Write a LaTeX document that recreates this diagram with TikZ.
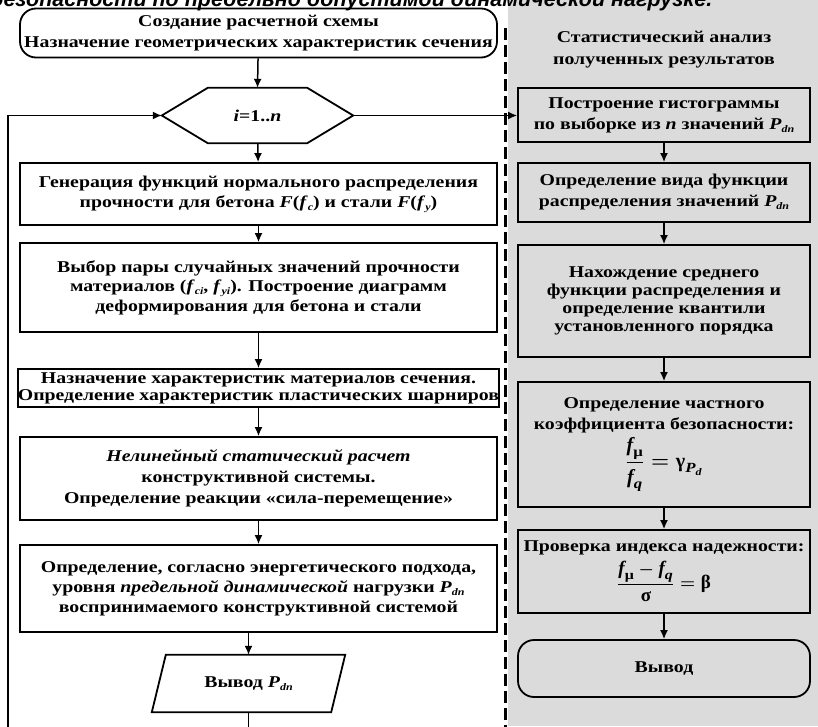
\documentclass[tikz,border=0pt]{standalone}
\usepackage{fontspec}
\usepackage{amsmath}
\setmainfont{Liberation Serif}[FakeStretch=1.2]
\newfontfamily\ttlfont{Liberation Sans}
\newfontfamily\mathtxt{Liberation Serif}
\usetikzlibrary{arrows.meta,calc}
\newcommand{\vf}{\text{\mathtxt\bfseries\itshape f}}
\newcommand{\sub}[1]{\raisebox{-3pt}{\fontsize{10}{10}\selectfont\textit{#1}}}
\newcommand{\Pdn}{\textit{P}\sub{dn}}
\newcommand{\fsz}[1]{\fontsize{16.5}{#1}\selectfont}
\begin{document}
\begin{tikzpicture}[x=1pt,y=-1pt,
  blk/.style={draw, line width=1.8pt, align=center, inner sep=0pt, font=\bfseries\fsz{20}},
  lbox/.style={blk, minimum width=477pt},
  rbox/.style={blk, minimum width=292pt},
  shp/.style={line width=1.8pt},
  conn/.style={line width=1.5pt},
  arr/.style={conn, -{Latex[length=9pt,width=8pt]}},
  txt/.style={align=center, inner sep=0pt, font=\bfseries\fsz{20}}]
\useasboundingbox (0,0) rectangle (818,726);
\clip (0,0) rectangle (818,726);
% right panel background
\fill[black!14] (508,0) rectangle (818,726);
\draw[line width=3pt, dash pattern=on 12pt off 5pt] (505,28) -- (505,740);
% title (cut off)
\node[anchor=base west, inner sep=0pt, font=\ttlfont\bfseries\itshape\fontsize{21.5}{21.5}\selectfont] (title) at (-10,6.5) {безопасности по предельно допустимой динамической нагрузке.};
% left column
\node[lbox, rounded corners=16pt, minimum height=49pt, font=\bfseries\fsz{21}] (start) at (258.5,33) {Создание расчетной схемы\\Назначение геометрических характеристик сечения};
\node[txt, minimum width=191pt, minimum height=55pt] (hex) at (257.5,115.5) {\textit{i}=1..\textit{n}};
\draw[shp] (hex.west) -- ($(hex.north west)+(46,0)$) -- ($(hex.north east)+(-46,0)$) -- (hex.east) -- ($(hex.south east)+(-46,0)$) -- ($(hex.south west)+(46,0)$) -- cycle;
\node[lbox, minimum height=62pt] (b2) at (258.5,194) {Генерация функций нормального распределения\\прочности для бетона \textit{F}(\textit{f}\sub{c}) и стали \textit{F}(\textit{f}\sub{y})};
\node[lbox, minimum height=89pt, font=\bfseries\fsz{19.5}] (b3) at (258.5,287.5) {Выбор пары случайных значений прочности\\материалов (\textit{f}\sub{ci}, \textit{f}\sub{yi}). Построение диаграмм\\деформирования для бетона и стали};
\node[lbox, minimum height=38pt, font=\bfseries\fsz{17}] (b4) at (258.5,388) {Назначение характеристик материалов сечения.\\Определение характеристик пластических шарниров};
\node[lbox, minimum height=83pt, font=\bfseries\fsz{21}] (b5) at (258.5,478.5) {\textit{Нелинейный статический расчет}\\конструктивной системы.\\Определение реакции «сила-перемещение»};
\node[lbox, minimum height=87pt] (b6) at (258.5,588.5) {Определение, согласно энергетического подхода,\\уровня \textit{предельной динамической} нагрузки \Pdn\\воспринимаемого конструктивной системой};
\node[txt, minimum width=193pt, minimum height=57pt] (par) at (248.5,683.5) {Вывод \Pdn};
\draw[shp] ($(par.south west)$) -- ($(par.north west)+(14,0)$) -- (par.north east) -- ($(par.south east)+(-14,0)$) -- cycle;
\coordinate (lb) at (8,745);
% right column
\node[txt, font=\bfseries\fsz{22}] (rtitle) at (664,50) {Статистический анализ\\полученных результатов};
\node[rbox, minimum height=54pt, font=\bfseries\fsz{21}] (r1) at (664,115) {Построение гистограммы\\по выборке из \textit{n} значений \Pdn};
\node[rbox, minimum height=59pt, font=\bfseries\fsz{21}] (r2) at (664,192.5) {Определение вида функции\\распределения значений \Pdn};
\node[rbox, minimum height=112pt, font=\bfseries\fsz{18}] (r3) at (664,301) {Нахождение среднего\\функции распределения и\\определение квантили\\установленного порядка};
\node[rbox, minimum height=125pt, font=\bfseries\fsz{21}] (r4) at (664,444.5) {Определение частного\\коэффициента безопасности:\\[4pt]{\fontsize{20}{22}\selectfont\boldmath$\displaystyle\frac{\vf_{\text{μ}}}{\vf_{\textit{q}}}=\text{\mathtxt γ}_{\textit{P}_{\textit{d}}}$}};
\node[rbox, minimum height=83pt] (r5) at (664,571.5) {Проверка индекса надежности:\\[5pt]{\fontsize{19}{20}\selectfont\boldmath$\displaystyle\frac{\vf_{\text{μ}}-\vf_{\textit{q}}}{\text{\mathtxt σ}}=\text{\mathtxt β}$}};
\node[rbox, rounded corners=16pt, minimum height=57pt] (r6) at (664,668.5) {Вывод};
% connectors
\draw[arr] (start) -- (hex.north);
\draw[arr] (hex) -- (b2);
\draw[arr] (b2) -- (b3);
\draw[arr] (b3) -- (b4);
\draw[arr] (b4) -- (b5);
\draw[arr] (b5) -- (b6);
\draw[arr] (b6.south -| par.north) -- (par.north);
\draw[arr] (par.south) |- (lb) |- (hex.west);
\draw[arr] (hex.east) -- (hex.east -| r1.west);
\draw[arr] (r1) -- (r2);
\draw[arr] (r2) -- (r3);
\draw[arr] (r3) -- (r4);
\draw[arr] (r4) -- (r5);
\draw[arr] (r5) -- (r6);
\end{tikzpicture}
\end{document}
